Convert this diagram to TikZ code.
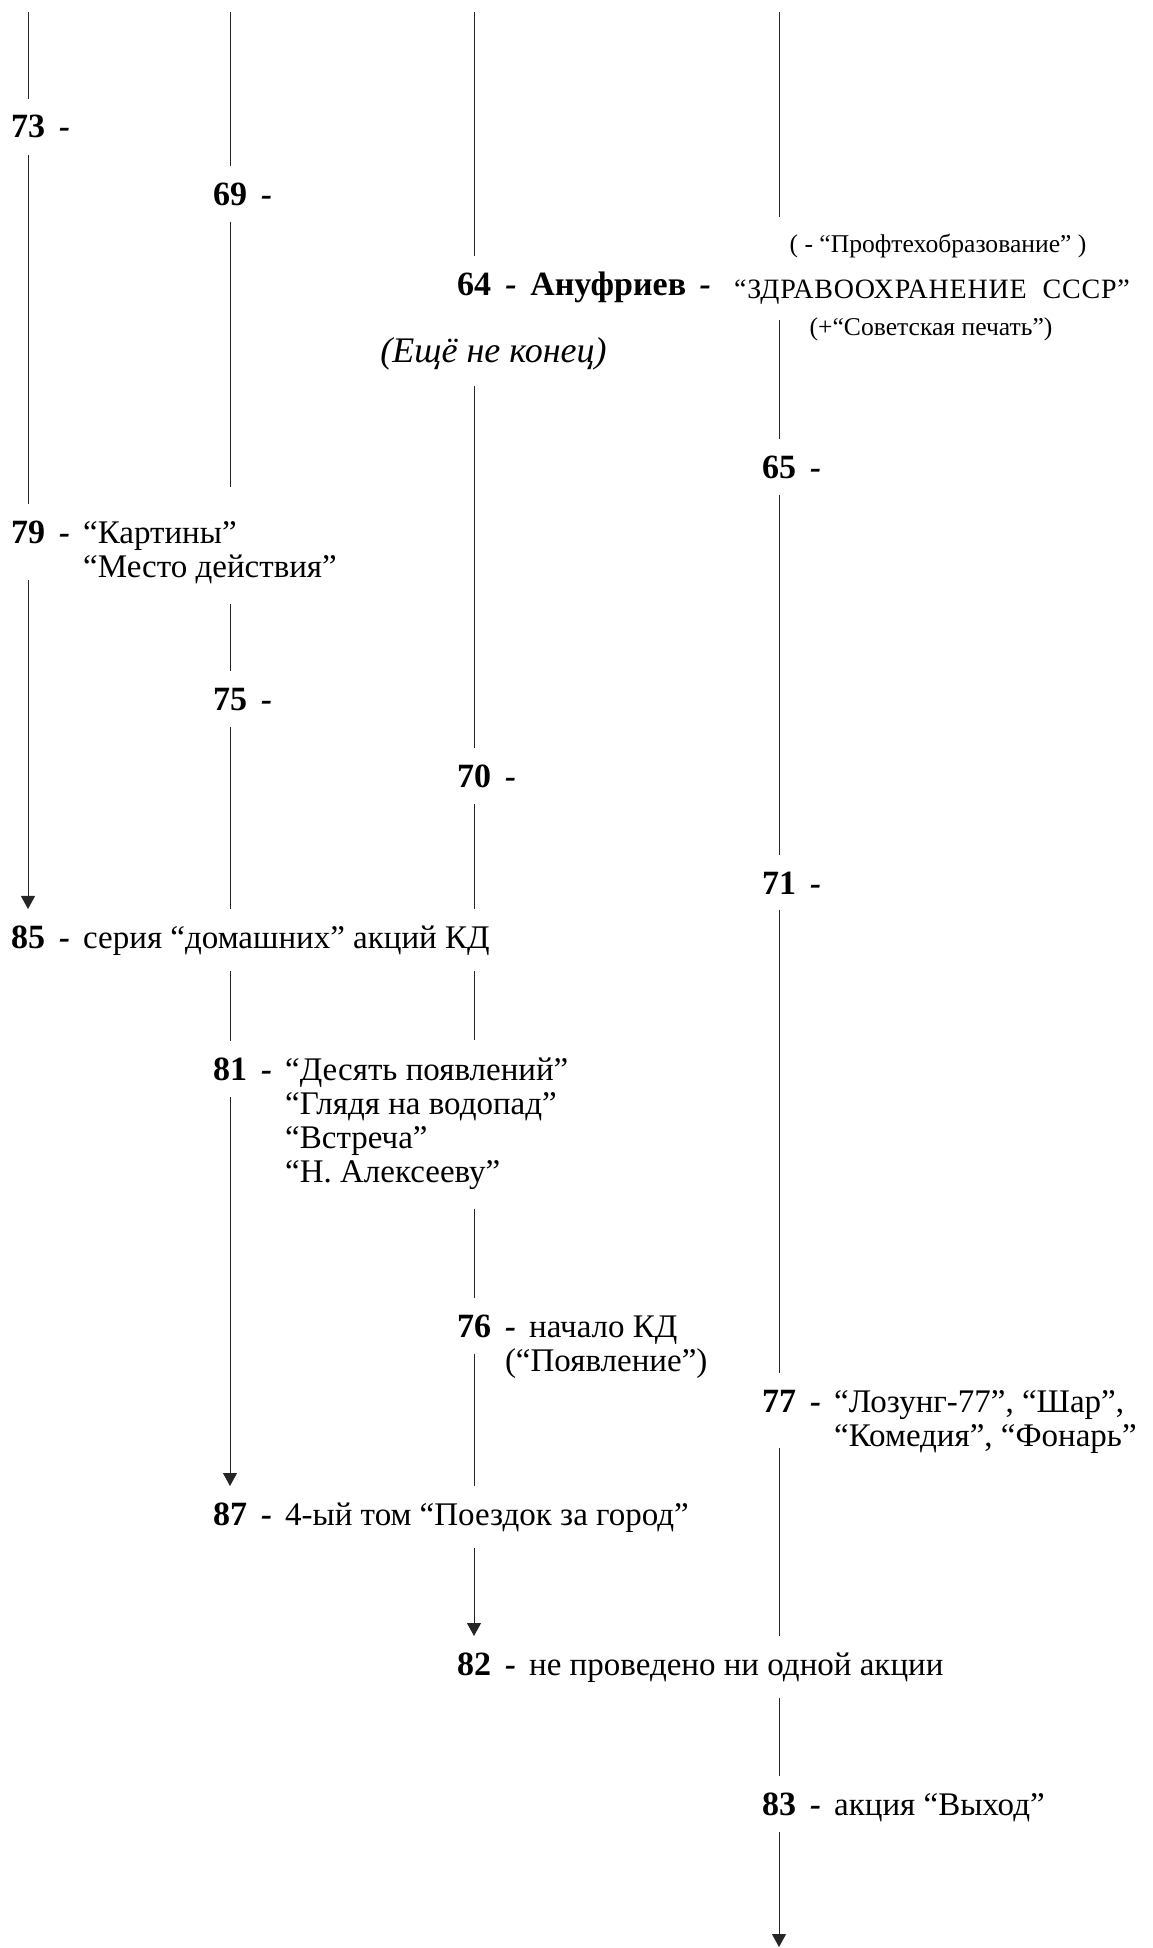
\documentclass[tikz,border=0pt]{standalone}
\usepackage{fontspec}
\setmainfont{Liberation Serif}
\usetikzlibrary{arrows.meta, positioning}
\newcommand\yrfont{\fontsize{17}{17}\selectfont\bfseries}
\newcommand\evfont{\fontsize{16.5}{17}\selectfont}
\newcommand\smfont{\fontsize{12.8}{14}\selectfont}
\newcommand\yrdash{\hspace{0.4em}{\bfseries\itshape -}\hspace{0.4em}}
\newcommand\lns[1]{\begin{tabular}[t]{@{}l@{}}#1\end{tabular}}
\tikzset{
  yr/.style={font=\yrfont, inner xsep=0pt, inner ysep=8pt, anchor=base},
  ev/.style={font=\evfont, inner xsep=0pt, inner ysep=8pt, anchor=base west},
  sm/.style={font=\smfont, inner xsep=0pt, inner ysep=8pt, anchor=base},
  ln/.style={line width=0.5pt, black!85},
  arr/.style={line width=0.5pt, black!85, -{Triangle[width=7pt,length=6.5pt]}}
}
\begin{document}
\begin{tikzpicture}[x=0.5pt, y=-0.5pt]
  \useasboundingbox (0,0) rectangle (1152,1948);
  % column heads
  \coordinate (c1top) at (28,12);
  \coordinate (c2top) at (230,12);
  \coordinate (c3top) at (474,12);
  \coordinate (c4top) at (779,12);
  \coordinate (c4end) at (779,1947);

  % years, top block
  \node[yr] (y73) at (28,138) {73};
  \node[ev] (t73) at (y73.base east) {\yrdash};
  \node[yr] (y69) at (230,205) {69};
  \node[ev] (t69) at (y69.base east) {\yrdash};
  \node[yr] (y64) at (474,295) {64};
  \node[ev, font=\yrfont] (t64) at (y64.base east) {\yrdash Ануфриев\yrdash};
  \node[ev, font=\fontsize{18}{18}\selectfont\itshape] (enc) at (380,362) {(Ещё не конец)};
  \node[sm] (prof) at (938,252) {( {\itshape -} “Профтехобразование” )};
  \node[sm, font=\fontsize{14}{14}\selectfont\addfontfeatures{LetterSpace=3}] (zdr) at (932,298) {“ЗДРАВООХРАНЕНИЕ\ \ СССР”};
  \node[sm] (sov) at (931,335) {(+“Советская печать”)};
  \node[yr] (y65) at (779,478) {65};
  \node[ev] (t65) at (y65.base east) {\yrdash};

  % years, middle block
  \node[yr] (y79) at (28,543) {79};
  \node[ev] (t79) at (y79.base east) {\yrdash\lns{“Картины”\\“Место действия”}};
  \node[yr] (y75) at (230,710) {75};
  \node[ev] (t75) at (y75.base east) {\yrdash};
  \node[yr] (y70) at (474,787) {70};
  \node[ev] (t70) at (y70.base east) {\yrdash};
  \node[yr] (y71) at (779,894) {71};
  \node[ev] (t71) at (y71.base east) {\yrdash};
  \node[yr] (y85) at (28,948) {85};
  \node[ev] (t85) at (y85.base east) {\yrdash серия “домашних” акций КД};
  \node[yr] (y81) at (230,1080) {81};
  \node[ev] (t81) at (y81.base east) {\yrdash\lns{“Десять появлений”\\“Глядя на водопад”\\“Встреча”\\“Н. Алексееву”}};

  % years, bottom block
  \node[yr] (y76) at (474,1337) {76};
  \node[ev] (t76) at (y76.base east) {\hspace{0.4em}\lns{{\bfseries\itshape -}\hspace{0.4em}начало КД\\(“Появление”)}};
  \node[yr] (y77) at (779,1412) {77};
  \node[ev] (t77) at (y77.base east) {\yrdash\lns{“Лозунг-77”, “Шар”,\\“Комедия”, “Фонарь”}};
  \node[yr] (y87) at (230,1525) {87};
  \node[ev] (t87) at (y87.base east) {\yrdash 4-ый том “Поездок за город”};
  \node[yr] (y82) at (474,1675) {82};
  \node[ev] (t82) at (y82.base east) {\yrdash не проведено ни одной акции};
  \node[yr] (y83) at (779,1815) {83};
  \node[ev] (t83) at (y83.base east) {\yrdash акция “Выход”};

  % column 1
  \draw[ln] (c1top) -- (y73);
  \draw[ln] (y73) -- (y79);
  \draw[arr, shorten <=10pt] (y79) -- (y85);

  % column 2
  \draw[ln] (c2top) -- (y69);
  \draw[ln, shorten >=8pt] (y69) -- (y69 |- t79.north);
  \draw[ln] (y69 |- t79.south) -- (y75);
  \draw[ln] (y75) -- (y75 |- t85.north);
  \draw[ln] (y75 |- t85.south) -- (y81);
  \draw[arr] (y81) -- (y87);

  % column 3
  \draw[ln] (c3top) -- (y64);
  \draw[ln] (y64 |- enc.south) -- (y70);
  \draw[ln] (y70) -- (y70 |- t85.north);
  \draw[ln] (y70 |- t85.south) -- (y70 |- t81.north);
  \draw[ln] (y70 |- t81.south) -- (y76);
  \draw[ln] (y76) -- (y76 |- t87.north);
  \draw[arr] (y76 |- t87.south) -- (y82);

  % column 4
  \draw[ln] (c4top) -- (c4top |- prof.north);
  \draw[ln] (c4top |- zdr.south) -- (y65);
  \draw[ln] (y65) -- (y71);
  \draw[ln] (y71) -- (y77);
  \draw[ln, shorten <=10pt] (y77) -- (y77 |- t82.north);
  \draw[ln] (y77 |- t82.south) -- (y83);
  \draw[arr] (y83) -- (c4end);
\end{tikzpicture}
\end{document}
